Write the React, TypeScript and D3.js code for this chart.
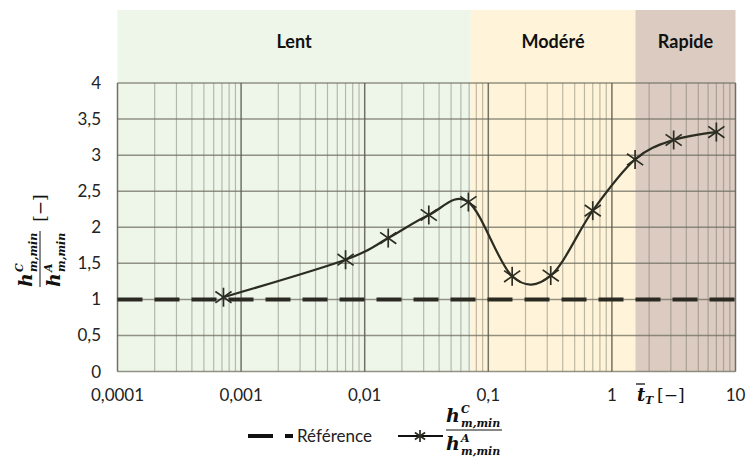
import React from 'react';
import * as d3 from 'd3';

const tValues = [0.00072, 0.007, 0.0155, 0.033, 0.069, 0.156, 0.32, 0.7, 1.54, 3.16, 7.0];
const ratioValues = [1.03, 1.55, 1.85, 2.17, 2.35, 1.32, 1.33, 2.23, 2.94, 3.21, 3.32];
const referenceValue = 1;

const regimeNames = ['Lent', 'Modéré', 'Rapide'];
const regimeStarts = [0.0001, 0.072, 1.55];
const regimeEnds = [0.072, 1.55, 10];
const regimeColors = ['#eef6ea', '#fff4d9', '#dccbc1'];

const xTickValues = [0.0001, 0.001, 0.01, 0.1, 1, 10];
const xTickLabels = ['0,0001', '0,001', '0,01', '0,1', '1', '10'];
const yTickValues = [0, 0.5, 1, 1.5, 2, 2.5, 3, 3.5, 4];
const yTickLabels = ['0', '0,5', '1', '1,5', '2', '2,5', '3', '3,5', '4'];

const W = 747, H = 459;
const margin = { top: 83, right: 11.5, bottom: 87.5, left: 117.5 };
const sans = 'Lato, "Open Sans", sans-serif';
const mathFont = '"DejaVu Serif", "Liberation Serif", serif';
const ink = '#2b2d22';

function Star({ x, y, r }: { x: number; y: number; r: number }) {
  const d = r * 0.85;
  return (
    <g stroke={ink} strokeWidth={1.7}>
      <line x1={x} y1={y - r} x2={x} y2={y + r} />
      <line x1={x - d} y1={y - d * 0.7} x2={x + d} y2={y + d * 0.7} />
      <line x1={x - d} y1={y + d * 0.7} x2={x + d} y2={y - d * 0.7} />
    </g>
  );
}

// h^C_{m,min} over h^A_{m,min}, drawn around (0,0)
function Fraction() {
  return (
    <g fontFamily={mathFont} fontWeight="bold" fontStyle="italic" fill="#111">
      <text x={-28} y={-8} fontSize={19}>h</text>
      <text x={-13} y={-17} fontSize={11}>C</text>
      <text x={-13} y={-3} fontSize={11}>m,min</text>
      <line x1={-28} x2={28} y1={0} y2={0} stroke="#111" strokeWidth={1} />
      <text x={-28} y={20} fontSize={19}>h</text>
      <text x={-13} y={12} fontSize={11}>A</text>
      <text x={-13} y={25} fontSize={11}>m,min</text>
    </g>
  );
}

export default function App() {
  const x = d3.scaleLog().domain([0.0001, 10]).range([margin.left, W - margin.right]);
  const y = d3.scaleLinear().domain([0, 4]).range([H - margin.bottom, margin.top]);

  const minorTicks: number[] = [];
  for (let e = -4; e < 1; e++) {
    for (let k = 2; k <= 9; k++) minorTicks.push(k * Math.pow(10, e));
  }

  const line = d3.line<number>()
    .x((_, i) => x(tValues[i]))
    .y((d) => y(d))
    .curve(d3.curveCardinal.tension(0));

  const [x0, x1] = x.range();
  const [yb, yt] = y.range();

  return (
    <svg width={W} height={H} style={{ position: 'absolute', left: 0, top: 0 }}>
      <rect width={W} height={H} fill="#fff" />
      {regimeNames.map((name, i) => (
        <g key={name}>
          <rect x={x(regimeStarts[i])} y={10} width={x(regimeEnds[i]) - x(regimeStarts[i])}
            height={yb - 10} fill={regimeColors[i]} />
          <text x={(x(regimeStarts[i]) + x(regimeEnds[i])) / 2} y={48} textAnchor="middle"
            fontFamily={sans} fontWeight="bold" fontSize={18} fill="#111">{name}</text>
        </g>
      ))}

      {minorTicks.map((t) => (
        <line key={t} x1={x(t)} x2={x(t)} y1={yt} y2={yb} stroke="#6f6f60" strokeOpacity={0.45} strokeWidth={1.2} />
      ))}
      {yTickValues.map((v) => (
        <line key={v} x1={x0} x2={x1} y1={y(v)} y2={y(v)} stroke="#6f6f60" strokeOpacity={0.75} strokeWidth={1.5} />
      ))}
      {xTickValues.map((t) => (
        <line key={t} x1={x(t)} x2={x(t)} y1={yt} y2={yb} stroke="#5a5a4e" strokeOpacity={0.85} strokeWidth={1.5} />
      ))}

      <line x1={x0} x2={x1} y1={y(referenceValue)} y2={y(referenceValue)} stroke="#2a2a22"
        strokeWidth={4} strokeDasharray="25 12" />

      <path d={line(ratioValues) || ''} fill="none" stroke={ink} strokeWidth={2.2} />
      {ratioValues.map((v, i) => <Star key={i} x={x(tValues[i])} y={y(v)} r={9.5} />)}

      {yTickValues.map((v, i) => (
        <text key={v} x={101} y={y(v) + 6} textAnchor="end" fontFamily={sans} fontSize={17} fill="#222">{yTickLabels[i]}</text>
      ))}
      {xTickValues.map((t, i) => (
        <text key={t} x={x(t)} y={401} textAnchor="middle" fontFamily={sans} fontSize={17} fill="#222">{xTickLabels[i]}</text>
      ))}

      <g fontFamily={mathFont} fill="#111">
        <text x={637} y={401} fontSize={18} fontWeight="bold" fontStyle="italic">t</text>
        <line x1={636} x2={645} y1={384} y2={384} stroke="#111" strokeWidth={1.3} />
        <text x={645} y={404} fontSize={11} fontWeight="bold" fontStyle="italic">T</text>
        <text x={657} y={401} fontSize={17}>[−]</text>
      </g>

      <g transform="translate(40,259) rotate(-90)">
        <Fraction />
        <text x={51} y={6} fontFamily={mathFont} fontSize={17} textAnchor="middle" fill="#111">[−]</text>
      </g>

      <g>
        <line x1={248} x2={273} y1={436} y2={436} stroke="#111" strokeWidth={4} />
        <line x1={285} x2={293} y1={436} y2={436} stroke="#111" strokeWidth={4} />
        <text x={297} y={442} fontFamily={sans} fontSize={17} fill="#222">Référence</text>
        <line x1={398} x2={443} y1={436} y2={436} stroke="#111" strokeWidth={2} />
        <Star x={420} y={436} r={6} />
        <g transform="translate(474,430)"><Fraction /></g>
      </g>
    </svg>
  );
}
